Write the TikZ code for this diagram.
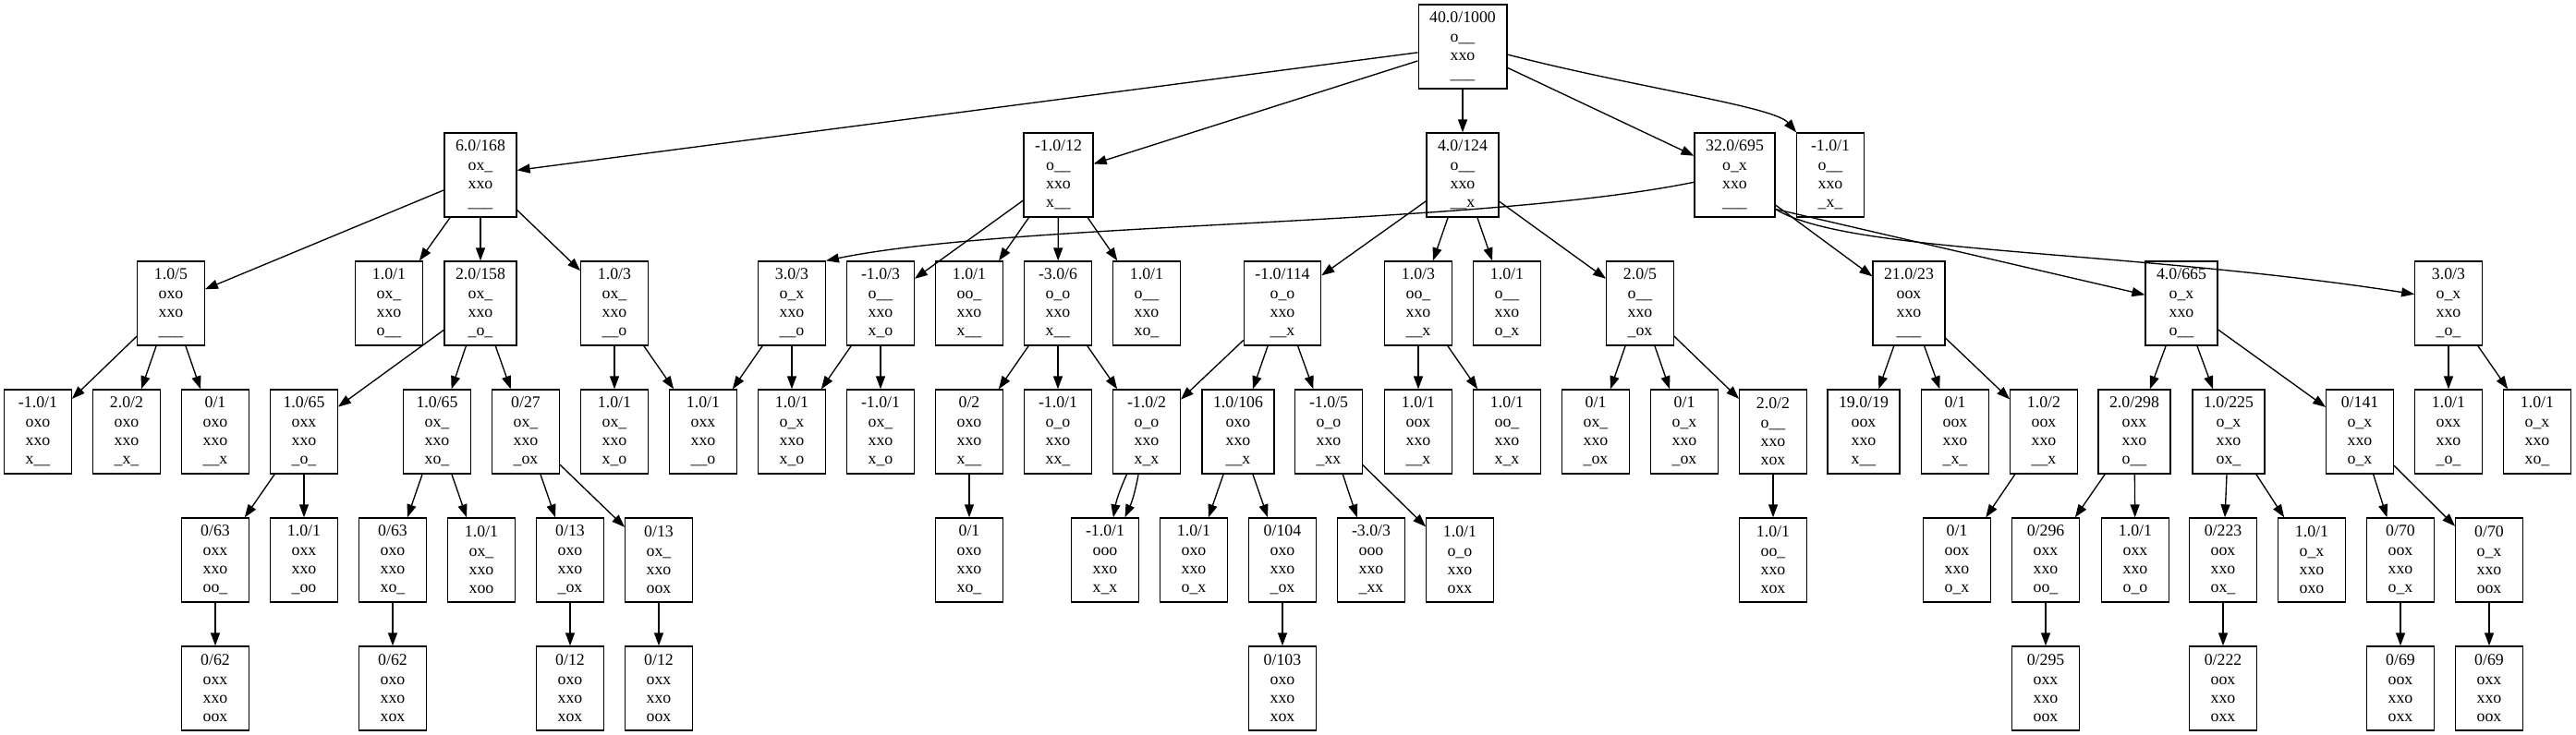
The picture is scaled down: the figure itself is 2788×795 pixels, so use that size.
\documentclass[tikz,border=0pt]{standalone}
\usepackage{fontspec}
\setmainfont{Liberation Serif}
\usetikzlibrary{arrows.meta}

\begin{document}
\begin{tikzpicture}[x=1pt,y=1pt,
  board/.style={draw,line width=1.34pt,rectangle,align=center,
    minimum width=72.5pt,minimum height=91pt,inner xsep=12pt,inner ysep=2pt,
    font=\fontsize{17.8}{20.3}\selectfont},
  move/.style={line width=1.34pt,-{Triangle[length=14pt,width=10pt]}}]
\fill[white] (0,0) rectangle (2788,-795);

% rank 0 and 1
\node[board] (t) at (1583,-50.5) {40.0/1000\\o\_\_\\xxo\\\_\_\_};
\node[board] (t1) at (520,-189.5) {6.0/168\\ox\_\\xxo\\\_\_\_};
\node[board] (t2) at (1145.5,-189.5) {-1.0/12\\o\_\_\\xxo\\x\_\_};
\node[board] (t3) at (1583,-189.5) {4.0/124\\o\_\_\\xxo\\\_\_x};
\node[board] (t4) at (1877.5,-189.5) {32.0/695\\o\_x\\xxo\\\_\_\_};
\node[board] (t5) at (1981,-189.5) {-1.0/1\\o\_\_\\xxo\\\_x\_};

% rank 2
\node[board] (t11) at (185,-328.5) {1.0/5\\oxo\\xxo\\\_\_\_};
\node[board] (t12) at (421,-328.5) {1.0/1\\ox\_\\xxo\\o\_\_};
\node[board] (t13) at (520,-328.5) {2.0/158\\ox\_\\xxo\\\_o\_};
\node[board] (t14) at (665,-328.5) {1.0/3\\ox\_\\xxo\\\_\_o};
\node[board] (t41) at (857,-328.5) {3.0/3\\o\_x\\xxo\\\_\_o};
\node[board] (t21) at (953,-328.5) {-1.0/3\\o\_\_\\xxo\\x\_o};
\node[board] (t22) at (1049,-328.5) {1.0/1\\oo\_\\xxo\\x\_\_};
\node[board] (t23) at (1145,-328.5) {-3.0/6\\o\_o\\xxo\\x\_\_};
\node[board] (t24) at (1241,-328.5) {1.0/1\\o\_\_\\xxo\\xo\_};
\node[board] (t31) at (1388,-328.5) {-1.0/114\\o\_o\\xxo\\\_\_x};
\node[board] (t32) at (1535,-328.5) {1.0/3\\oo\_\\xxo\\\_\_x};
\node[board] (t33) at (1631,-328.5) {1.0/1\\o\_\_\\xxo\\o\_x};
\node[board] (t34) at (1775,-328.5) {2.0/5\\o\_\_\\xxo\\\_ox};
\node[board] (t42) at (2066,-328.5) {21.0/23\\oox\\xxo\\\_\_\_};
\node[board] (t43) at (2361,-328.5) {4.0/665\\o\_x\\xxo\\o\_\_};
\node[board] (t44) at (2650,-328.5) {3.0/3\\o\_x\\xxo\\\_o\_};

% rank 3
\node[board] (t111) at (41,-467.5) {-1.0/1\\oxo\\xxo\\x\_\_};
\node[board] (t112) at (137,-467.5) {2.0/2\\oxo\\xxo\\\_x\_};
\node[board] (t113) at (233,-467.5) {0/1\\oxo\\xxo\\\_\_x};
\node[board] (t131) at (329,-467.5) {1.0/65\\oxx\\xxo\\\_o\_};
\node[board] (t132) at (473,-467.5) {1.0/65\\ox\_\\xxo\\xo\_};
\node[board] (t133) at (569,-467.5) {0/27\\ox\_\\xxo\\\_ox};
\node[board] (t141) at (665,-467.5) {1.0/1\\ox\_\\xxo\\x\_o};
\node[board] (t142) at (761,-467.5) {1.0/1\\oxx\\xxo\\\_\_o};
\node[board] (t411) at (857,-467.5) {1.0/1\\o\_x\\xxo\\x\_o};
\node[board] (t211) at (953,-467.5) {-1.0/1\\ox\_\\xxo\\x\_o};
\node[board] (t231) at (1049,-467.5) {0/2\\oxo\\xxo\\x\_\_};
\node[board] (t232) at (1145,-467.5) {-1.0/1\\o\_o\\xxo\\xx\_};
\node[board] (t233) at (1241,-467.5) {-1.0/2\\o\_o\\xxo\\x\_x};
\node[board] (t311) at (1340,-467.5) {1.0/106\\oxo\\xxo\\\_\_x};
\node[board] (t312) at (1438,-467.5) {-1.0/5\\o\_o\\xxo\\\_xx};
\node[board] (t321) at (1535,-467.5) {1.0/1\\oox\\xxo\\\_\_x};
\node[board] (t322) at (1631,-467.5) {1.0/1\\oo\_\\xxo\\x\_x};
\node[board] (t341) at (1727,-467.5) {0/1\\ox\_\\xxo\\\_ox};
\node[board] (t342) at (1823,-467.5) {0/1\\o\_x\\xxo\\\_ox};
\node[board] (t343) at (1919,-467.5) {2.0/2\\o\_\_\\xxo\\xox};
\node[board] (t421) at (2017,-467.5) {19.0/19\\oox\\xxo\\x\_\_};
\node[board] (t422) at (2116,-467.5) {0/1\\oox\\xxo\\\_x\_};
\node[board] (t423) at (2212,-467.5) {1.0/2\\oox\\xxo\\\_\_x};
\node[board] (t431) at (2310,-467.5) {2.0/298\\oxx\\xxo\\o\_\_};
\node[board] (t432) at (2412,-467.5) {1.0/225\\o\_x\\xxo\\ox\_};
\node[board] (t433) at (2554,-467.5) {0/141\\o\_x\\xxo\\o\_x};
\node[board] (t441) at (2650,-467.5) {1.0/1\\oxx\\xxo\\\_o\_};
\node[board] (t442) at (2746,-467.5) {1.0/1\\o\_x\\xxo\\xo\_};

% rank 4
\node[board] (t1311) at (233,-606.5) {0/63\\oxx\\xxo\\oo\_};
\node[board] (t1312) at (329,-606.5) {1.0/1\\oxx\\xxo\\\_oo};
\node[board] (t1321) at (425,-606.5) {0/63\\oxo\\xxo\\xo\_};
\node[board] (t1322) at (521,-606.5) {1.0/1\\ox\_\\xxo\\xoo};
\node[board] (t1331) at (617,-606.5) {0/13\\oxo\\xxo\\\_ox};
\node[board] (t1332) at (713,-606.5) {0/13\\ox\_\\xxo\\oox};
\node[board] (t2311) at (1049,-606.5) {0/1\\oxo\\xxo\\xo\_};
\node[board] (t2331) at (1196,-606.5) {-1.0/1\\ooo\\xxo\\x\_x};
\node[board] (t3111) at (1292,-606.5) {1.0/1\\oxo\\xxo\\o\_x};
\node[board] (t3112) at (1388,-606.5) {0/104\\oxo\\xxo\\\_ox};
\node[board] (t3121) at (1484,-606.5) {-3.0/3\\ooo\\xxo\\\_xx};
\node[board] (t3122) at (1580,-606.5) {1.0/1\\o\_o\\xxo\\oxx};
\node[board] (t3431) at (1919,-606.5) {1.0/1\\oo\_\\xxo\\xox};
\node[board] (t4231) at (2118,-606.5) {0/1\\oox\\xxo\\o\_x};
\node[board] (t4311) at (2214,-606.5) {0/296\\oxx\\xxo\\oo\_};
\node[board] (t4312) at (2311,-606.5) {1.0/1\\oxx\\xxo\\o\_o};
\node[board] (t4321) at (2406,-606.5) {0/223\\oox\\xxo\\ox\_};
\node[board] (t4322) at (2502,-606.5) {1.0/1\\o\_x\\xxo\\oxo};
\node[board] (t4331) at (2598,-606.5) {0/70\\oox\\xxo\\o\_x};
\node[board] (t4332) at (2694,-606.5) {0/70\\o\_x\\xxo\\oox};

% rank 5
\node[board] (t13111) at (233,-745.5) {0/62\\oxx\\xxo\\oox};
\node[board] (t13211) at (425,-745.5) {0/62\\oxo\\xxo\\xox};
\node[board] (t13311) at (617,-745.5) {0/12\\oxo\\xxo\\xox};
\node[board] (t13321) at (713,-745.5) {0/12\\oxx\\xxo\\oox};
\node[board] (t31121) at (1388,-745.5) {0/103\\oxo\\xxo\\xox};
\node[board] (t43111) at (2214,-745.5) {0/295\\oxx\\xxo\\oox};
\node[board] (t43211) at (2406,-745.5) {0/222\\oox\\xxo\\oxx};
\node[board] (t43311) at (2598,-745.5) {0/69\\oox\\xxo\\oxx};
\node[board] (t43321) at (2694,-745.5) {0/69\\oxx\\xxo\\oox};

% moves
\draw[move] (t) edge (t1) edge (t2) edge (t3) edge (t4);
\draw[move] (t.-10) .. controls (1770,-95) and (1920,-115) .. (t5.north west);
\draw[move] (t1) edge (t11) edge (t12) edge (t13) edge (t14);
\draw[move] (t11) edge (t111) edge (t112) edge (t113);
\draw[move] (t13) edge (t131) edge (t132) edge (t133);
\draw[move] (t131) edge (t1311) edge (t1312);
\draw[move] (t1311) -- (t13111);
\draw[move] (t132) edge (t1321) edge (t1322);
\draw[move] (t1321) -- (t13211);
\draw[move] (t133) edge (t1331) edge (t1332);
\draw[move] (t1331) -- (t13311);
\draw[move] (t1332) -- (t13321);
\draw[move] (t14) edge (t141) edge (t142);
\draw[move] (t41) edge (t142) edge (t411);
\draw[move] (t2) edge (t21) edge (t22) edge (t23) edge (t24);
\draw[move] (t21) edge (t411) edge (t211);
\draw[move] (t23) edge (t231) edge (t232) edge (t233);
\draw[move] (t231) -- (t2311);
\draw[move] (t233) edge[bend right=7] (t2331) edge[bend left=7] (t2331);
\draw[move] (t3) edge (t31) edge (t32) edge (t33) edge (t34);
\draw[move] (t31) edge (t233) edge (t311) edge (t312);
\draw[move] (t311) edge (t3111) edge (t3112);
\draw[move] (t3112) -- (t31121);
\draw[move] (t312) edge (t3121) edge (t3122);
\draw[move] (t32) edge (t321) edge (t322);
\draw[move] (t34) edge (t341) edge (t342) edge (t343);
\draw[move] (t343) -- (t3431);
\draw[move] (t4.190) .. controls (1600,-245) and (1100,-240) .. (t41.north east);
\draw[move] (t4) -- (t42);
\draw[move] (t4.-40) -- (t43);
\draw[move] (t4.-40) .. controls (2000,-275) and (2300,-270) .. (t44.165);
\draw[move] (t42) edge (t421) edge (t422) edge (t423);
\draw[move] (t423) -- (t4231);
\draw[move] (t43) edge (t431) edge (t432) edge (t433);
\draw[move] (t431) edge (t4311) edge (t4312);
\draw[move] (t4311) -- (t43111);
\draw[move] (t432) edge (t4321) edge (t4322);
\draw[move] (t4321) -- (t43211);
\draw[move] (t433) edge (t4331) edge (t4332);
\draw[move] (t4331) -- (t43311);
\draw[move] (t4332) -- (t43321);
\draw[move] (t44) edge (t441) edge (t442);
\end{tikzpicture}
\end{document}
